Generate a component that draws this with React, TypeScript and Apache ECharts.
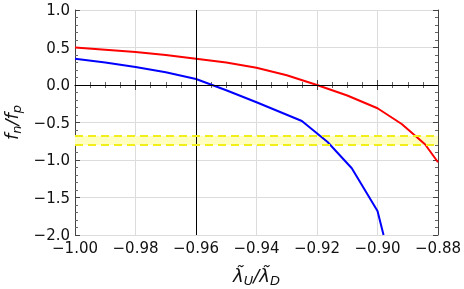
import React, { useEffect, useRef } from "react";
import * as echarts from "echarts";

const xTicks = [-1.0, -0.98, -0.96, -0.94, -0.92, -0.9, -0.88];
const yTicks = [-2.0, -1.5, -1.0, -0.5, 0.0, 0.5, 1.0];

const redX = [-1.0, -0.99, -0.98, -0.97, -0.96, -0.95, -0.94, -0.93, -0.92, -0.91, -0.9, -0.892, -0.8843, -0.88];
const redY = [0.5, 0.47, 0.44, 0.4, 0.35, 0.3, 0.23, 0.13, 0.0, -0.14, -0.31, -0.52, -0.79, -1.03];

const blueX = [-1.0, -0.99, -0.98, -0.97, -0.96, -0.95, -0.94, -0.925, -0.9165, -0.9085, -0.9, -0.898];
const blueY = [0.35, 0.3, 0.24, 0.17, 0.08, -0.07, -0.23, -0.48, -0.76, -1.11, -1.68, -2.0];

const bandLow = -0.8;
const bandHigh = -0.68;
const refX = -0.96;
const refY = 0;

const FONT = "DejaVu Sans";
const fmt = (v: number, d: number) => {
  const s = Math.abs(v).toFixed(d);
  return v < -1e-9 ? "\u2212" + s : s;
};

const nameRich = {
  i: { fontFamily: FONT, fontStyle: "italic", fontSize: 18, color: "#111" },
  s: { fontFamily: FONT, fontStyle: "italic", fontSize: 13, color: "#111", verticalAlign: "bottom", padding: [10, 0, 0, 0] },
};

export default function App() {
  const ref = useRef<HTMLDivElement>(null);
  useEffect(() => {
    const chart = echarts.init(ref.current!, null, { renderer: "svg" });
    const axisLine = { show: true, lineStyle: { color: "#444", width: 1 } };
    const tick = { show: true, inside: true, length: 5, lineStyle: { color: "#444" } };
    const minorX = { show: true, splitNumber: 4, length: 3, lineStyle: { color: "#666" } };
    const minorY = { show: true, splitNumber: 5, length: 3, lineStyle: { color: "#666" } };
    const grid = { show: true, lineStyle: { color: "#dcdcdc", width: 1 } };
    const xBase = { type: "value", min: xTicks[0], max: xTicks[xTicks.length - 1], interval: 0.02 };
    const yBase = { type: "value", min: yTicks[0], max: yTicks[yTicks.length - 1], interval: 0.5 };
    chart.setOption({
      animation: false,
      grid: { left: 75, right: 26, top: 10, bottom: 54, outerBoundsMode: "none", containLabel: false },
      xAxis: [
        {
          ...xBase,
          position: "bottom",
          axisLine,
          axisTick: tick,
          minorTick: minorX,
          splitLine: grid,
          axisLabel: {
            fontFamily: FONT, fontSize: 15, color: "#111", margin: 5,
            showMinLabel: true, showMaxLabel: true,
            formatter: (v: number) => fmt(v, 2),
          },
          name: "{i|λ̃}{s|U}{i|/λ̃}{s|D}",
          nameLocation: "middle",
          nameGap: 29,
          nameTextStyle: { rich: nameRich },
        },
        {
          ...xBase,
          position: "top",
          axisLine,
          axisTick: tick,
          minorTick: minorX,
          splitLine: { show: false },
          axisLabel: { show: false },
        },
      ],
      yAxis: [
        {
          ...yBase,
          position: "left",
          axisLine,
          axisTick: tick,
          minorTick: minorY,
          splitLine: grid,
          axisLabel: {
            fontFamily: FONT, fontSize: 15, color: "#111", margin: 5,
            formatter: (v: number) => fmt(v, 1),
          },
          name: "{i|f}{s|n}{i|/f}{s|p}",
          nameLocation: "middle",
          nameRotate: 90,
          nameGap: 52,
          nameTextStyle: { rich: nameRich },
        },
        {
          ...yBase,
          position: "right",
          axisLine,
          axisTick: tick,
          minorTick: minorY,
          splitLine: { show: false },
          axisLabel: { show: false },
        },
      ],
      series: [
        {
          type: "line",
          z: 3,
          data: redX.map((x, i) => [x, redY[i]]),
          showSymbol: false,
          lineStyle: { color: "#ff0000", width: 2 },
          markArea: {
            silent: true,
            itemStyle: { color: "#ffffc0", opacity: 1 },
            data: [[{ yAxis: bandLow }, { yAxis: bandHigh }]],
          },
          markLine: {
            silent: true,
            symbol: "none",
            label: { show: false },
            data: [
              { yAxis: refY, lineStyle: { color: "#000", width: 1, type: "solid" } },
              { xAxis: refX, lineStyle: { color: "#000", width: 1, type: "solid" } },
              { yAxis: bandLow, lineStyle: { color: "#f2ee1a", width: 2, type: [8, 5] } },
              { yAxis: bandHigh, lineStyle: { color: "#f2ee1a", width: 2, type: [8, 5] } },
            ],
          },
        },
        {
          type: "line",
          z: 4,
          data: blueX.map((x, i) => [x, blueY[i]]),
          showSymbol: false,
          lineStyle: { color: "#0000ff", width: 2 },
        },
      ],
    });
    return () => chart.dispose();
  }, []);
  return <div ref={ref} style={{ position: "fixed", left: 0, top: 0, width: 464, height: 289 }} />;
}
